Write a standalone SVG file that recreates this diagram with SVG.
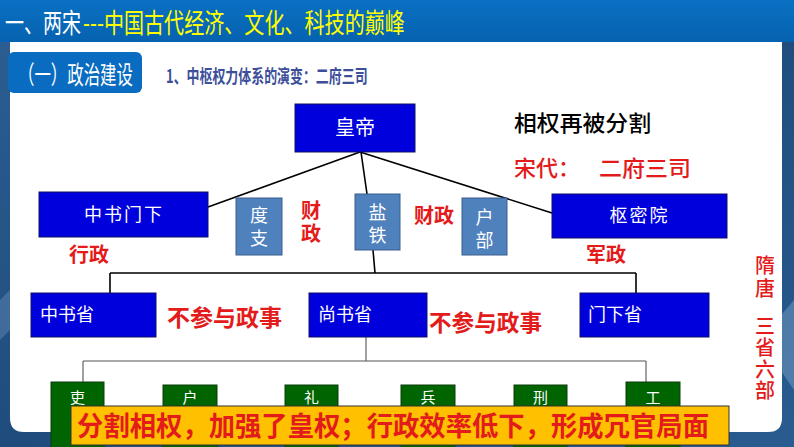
<svg xmlns="http://www.w3.org/2000/svg" width="794" height="447" viewBox="0 0 794 447">
<defs>
<linearGradient id="bg" x1="0" y1="0" x2="1" y2="1">
<stop offset="0" stop-color="#2d5f94"/>
<stop offset="0.5" stop-color="#1f4c7c"/>
<stop offset="1" stop-color="#2a5c90"/>
</linearGradient>
<linearGradient id="hdr" x1="0" y1="0" x2="0" y2="1">
<stop offset="0" stop-color="#0a70c2"/>
<stop offset="1" stop-color="#0562b0"/>
</linearGradient>
<style>
text{font-family:"Noto Sans CJK SC","Liberation Sans",sans-serif}
.bx{fill:#0000dc;stroke:#10106a;stroke-width:1}
.sb{fill:#4f81bd;stroke:#3a5f8c;stroke-width:1}
.gb{fill:#006400;stroke:#0c3d0c;stroke-width:1}
.wt{fill:#ffffff;font-size:18px}
.wc{fill:#ffffff;font-size:18px;text-anchor:middle}
.vt{fill:#ffffff;font-size:18px;text-anchor:middle;writing-mode:vertical-rl;letter-spacing:5px}
.gc{fill:#ffffff;font-size:15px;text-anchor:middle}
.rc{fill:#e31b1b;font-weight:bold;font-size:20px;text-anchor:middle}
.rv{fill:#e31b1b;font-weight:bold;font-size:20px;text-anchor:middle;writing-mode:vertical-rl;letter-spacing:3px}
.ln{stroke:#000;stroke-width:1.6;fill:none}
.lg{stroke:#555;stroke-width:1.1;fill:none}
</style>
</defs>
<rect x="0" y="0" width="794" height="447" fill="url(#bg)"/>
<path d="M0,300 L40,260 L40,300 L0,340 Z" fill="#5d86b3" opacity="0.5"/>
<path d="M794,300 L760,340 L794,390 Z" fill="#7fa6cc" opacity="0.45"/>
<path d="M10,42 H782 V418 Q782,432 768,432 H24 Q10,432 10,418 Z" fill="#ffffff"/>
<rect x="0" y="0" width="794" height="42" fill="url(#hdr)"/>
<text transform="translate(5,33) scale(0.7037,1)" x="0" y="0" font-size="27" fill="#ffffff" textLength="108" lengthAdjust="spacingAndGlyphs">一、两宋</text>
<text transform="translate(83,33) scale(0.745,1)" x="0" y="0" font-size="27" fill="#ffff00" textLength="432" lengthAdjust="spacingAndGlyphs">---中国古代经济、文化、科技的巅峰</text>
<g id="section">
<rect x="8" y="52" width="134" height="41" rx="6" fill="#0a6cc0"/>
<text transform="translate(18,84) scale(0.657,1)" x="0" y="0" font-size="25" fill="#ffffff" textLength="175" lengthAdjust="spacingAndGlyphs">（一）政治建设</text>
</g>
<text transform="translate(166,83) scale(0.70,1)" x="0" y="0" font-size="18.5" font-weight="bold" fill="#3d4f9a" textLength="288" lengthAdjust="spacingAndGlyphs">1、中枢权力体系的演变：二府三司</text>

<g id="connectors">
<path class="ln" d="M360,152 L208,207 M361,152 L367,194 M360,152 L552,213"/>
<path class="ln" d="M373,250 L375,273 M110,273 H636 M110,273 V293 M636,273 V293"/>
<path class="lg" d="M366,337 V361 M83,361 H646 M83,361 V382 M646,361 V382"/>
</g>

<g id="n-huangdi"><rect class="bx" x="295" y="104" width="120" height="48"/><text class="wc" x="355" y="135" style="font-size:20px">皇帝</text></g>
<g id="n-zhongshumenxia"><rect class="bx" x="39" y="192" width="169" height="45"/><text class="wc" x="124" y="221" letter-spacing="2">中书门下</text></g>
<g id="n-duzhi"><rect class="sb" x="236" y="198" width="46" height="57"/><text class="vt" x="259" y="229">度支</text></g>
<g id="n-yantie"><rect class="sb" x="355" y="194" width="45" height="56"/><text class="vt" x="377.5" y="226">盐铁</text></g>
<g id="n-hubu"><rect class="sb" x="462" y="198" width="45" height="57"/><text class="vt" x="484.5" y="231">户部</text></g>
<g id="n-shumiyuan"><rect class="bx" x="552" y="194" width="175" height="44"/><text class="wc" x="639.5" y="222" letter-spacing="2">枢密院</text></g>

<text class="rv" x="311" y="223">财政</text>
<text class="rc" x="434" y="223">财政</text>
<text class="rc" x="89" y="262">行政</text>
<text class="rc" x="606" y="262">军政</text>
<text x="514" y="131" font-size="22" font-weight="500" fill="#000" textLength="137" lengthAdjust="spacingAndGlyphs">相权再被分割</text>
<text x="514" y="176" font-size="22" font-weight="500" fill="#e31b1b">宋代：</text>
<text x="599" y="176" font-size="22" font-weight="500" fill="#e31b1b" textLength="92" lengthAdjust="spacingAndGlyphs">二府三司</text>

<g id="n-zhongshusheng"><rect class="bx" x="31" y="293" width="125" height="44"/><text class="wt" x="40" y="321">中书省</text></g>
<g id="n-shangshusheng"><rect class="bx" x="309" y="293" width="118" height="44"/><text class="wt" x="318" y="321">尚书省</text></g>
<g id="n-menxiasheng"><rect class="bx" x="580" y="293" width="129" height="44"/><text class="wt" x="588" y="321">门下省</text></g>
<text x="167" y="326" font-size="23" font-weight="bold" fill="#e31b1b" textLength="115" lengthAdjust="spacingAndGlyphs">不参与政事</text>
<text x="429" y="331" font-size="23" font-weight="bold" fill="#e31b1b" textLength="113" lengthAdjust="spacingAndGlyphs">不参与政事</text>

<g id="n-li"><rect class="gb" x="51" y="382" width="53" height="70"/><text class="gc" x="77.5" y="403">吏</text></g>
<g id="n-hu"><rect class="gb" x="163" y="385" width="54" height="67"/><text class="gc" x="190" y="403">户</text></g>
<g id="n-li2"><rect class="gb" x="285" y="385" width="53" height="67"/><text class="gc" x="311.5" y="403">礼</text></g>
<g id="n-bing"><rect class="gb" x="401" y="385" width="54" height="67"/><text class="gc" x="428" y="403">兵</text></g>
<g id="n-xing"><rect class="gb" x="514" y="385" width="53" height="67"/><text class="gc" x="540.5" y="403">刑</text></g>
<g id="n-gong"><rect class="gb" x="626" y="382" width="54" height="70"/><text class="gc" x="653" y="403">工</text></g>

<g id="banner">
<rect x="71" y="406" width="658" height="39" fill="#ffc000" stroke="#333" stroke-width="1"/>
<text x="77" y="436" font-size="27" font-weight="bold" fill="#e31b1b" textLength="632" lengthAdjust="spacingAndGlyphs">分割相权，加强了皇权；行政效率低下，形成冗官局面</text>
</g>

<text x="765" y="278" font-size="20" font-weight="500" fill="#e31b1b" text-anchor="middle" style="writing-mode:vertical-rl;letter-spacing:3px">隋唐</text>
<text x="765" y="359" font-size="20" font-weight="500" fill="#e31b1b" text-anchor="middle" style="writing-mode:vertical-rl;letter-spacing:1.3px">三省六部</text>
</svg>
